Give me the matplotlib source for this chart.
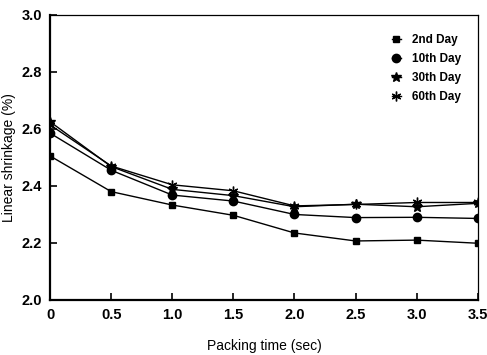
import matplotlib
matplotlib.use("Agg")
import matplotlib.pyplot as plt

plt.rcParams['font.family'] = ['Liberation Sans', 'DejaVu Sans']

packing_time = [0, 0.5, 1.0, 1.5, 2.0, 2.5, 3.0, 3.5]
day2 = [2.505, 2.38, 2.333, 2.297, 2.235, 2.207, 2.21, 2.199]
day10 = [2.585, 2.455, 2.368, 2.347, 2.30, 2.289, 2.29, 2.286]
day30 = [2.625, 2.468, 2.388, 2.366, 2.327, 2.336, 2.327, 2.339]
day60 = [2.614, 2.47, 2.404, 2.383, 2.33, 2.335, 2.342, 2.342]
labels = ['2nd Day', '10th Day', '30th Day', '60th Day']
xticks = [0, 0.5, 1.0, 1.5, 2.0, 2.5, 3.0, 3.5]
xticklabels = ['0', '0.5', '1.0', '1.5', '2.0', '2.5', '3.0', '3.5']
yticks = [2.0, 2.2, 2.4, 2.6, 2.8, 3.0]

fig = plt.figure(figsize=(4.87, 3.55), dpi=100)
ax = fig.add_axes([0.103, 0.155, 0.878, 0.803])

series = [day2, day10, day30, day60]
markers = ['s', 'o', '*', (6, 2, 0)]
msizes = [4, 6, 7, 7]
for ys, lab, m, ms in zip(series, labels, markers, msizes):
    ax.plot(packing_time, ys, color='black', lw=1.0, marker=m, ms=ms,
            mec='black', mfc='black', mew=1.0, label=lab)

ax.set_xlim(0, 3.5)
ax.set_ylim(2.0, 3.0)
ax.set_xticks(xticks)
ax.set_xticklabels(xticklabels)
ax.set_yticks(yticks)
ax.set_yticklabels(['%.1f' % v for v in yticks])
ax.tick_params(direction='in', length=5, width=1.2, labelsize=10.5, pad=6)
for lab in ax.get_xticklabels() + ax.get_yticklabels():
    lab.set_fontweight('bold')
ax.spines['left'].set_linewidth(1.6)
ax.spines['bottom'].set_linewidth(1.6)
ax.spines['top'].set_linewidth(0.9)
ax.spines['right'].set_linewidth(0.9)

ax.set_xlabel('Packing time (sec)', fontsize=10, labelpad=12)
ax.set_ylabel('Linear shrinkage (%)', fontsize=10, labelpad=4)

ax.legend(loc='upper right', frameon=False, handlelength=0.8,
          handletextpad=0.9, labelspacing=0.6, bbox_to_anchor=(0.985, 0.97),
          prop={'weight': 'bold', 'size': 8.5})

fig.savefig('out.png', dpi=100)
